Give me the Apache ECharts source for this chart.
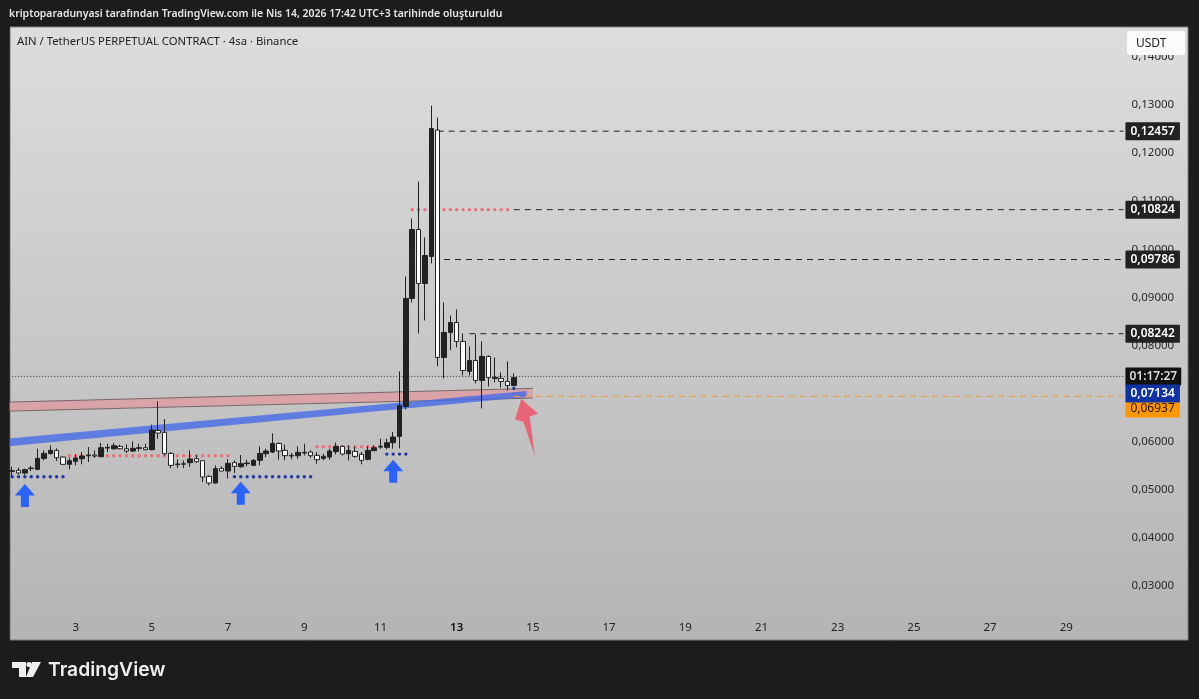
<!DOCTYPE html>
<html><head><meta charset="utf-8">
<style>html,body{margin:0;padding:0;background:#1c1c1c}#c{width:1199px;height:699px}</style>
<script src="https://cdn.jsdelivr.net/npm/echarts@6/dist/echarts.min.js"></script>
</head><body><div id="c"></div>
<script>
const opens=[0.05378,0.05399,0.05343,0.05434,0.0542,0.05648,0.05745,0.05815,0.05676,0.05524,0.05586,0.05641,0.05704,0.05718,0.05683,0.05863,0.05849,0.05898,0.05849,0.05801,0.05856,0.0587,0.05829,0.0623,0.06189,0.05752,0.05517,0.05538,0.05558,0.05641,0.056,0.05274,0.05136,0.0544,0.05385,0.05558,0.05475,0.05538,0.05503,0.05607,0.05745,0.0578,0.0596,0.05815,0.05697,0.05704,0.05759,0.0578,0.05711,0.05648,0.05676,0.05787,0.05898,0.05745,0.05794,0.05732,0.05628,0.05808,0.05884,0.05877,0.05974,0.06106,0.0673,0.08976,0.10411,0.09288,0.0985,0.1248,0.07749,0.08269,0.08477,0.08082,0.07458,0.07686,0.0727,0.0777,0.07312,0.07312,0.0725,0.07166];
const closes=[0.05392,0.05343,0.05413,0.05447,0.05648,0.05752,0.05815,0.05662,0.05524,0.056,0.05655,0.05697,0.05718,0.05697,0.0587,0.05877,0.05912,0.05849,0.05801,0.05856,0.0587,0.05829,0.06237,0.06175,0.05745,0.05503,0.05531,0.05524,0.05635,0.05579,0.0526,0.05136,0.05434,0.05385,0.05544,0.05482,0.05538,0.05551,0.05607,0.05752,0.05801,0.0596,0.05801,0.05704,0.05711,0.05773,0.05773,0.05704,0.05621,0.0569,0.05801,0.05898,0.05738,0.05815,0.0569,0.05607,0.05815,0.0587,0.05898,0.05974,0.06092,0.0675,0.08976,0.10411,0.09288,0.0987,0.12512,0.07749,0.08269,0.08477,0.08082,0.07478,0.07686,0.0727,0.0777,0.07333,0.07333,0.0725,0.07166,0.07333];
const lows=[0.05295,0.05316,0.05309,0.05385,0.05399,0.05607,0.05732,0.05593,0.0551,0.0542,0.05503,0.05524,0.05572,0.05662,0.05676,0.0578,0.05829,0.05835,0.05759,0.0578,0.05794,0.05815,0.05815,0.06057,0.05711,0.05447,0.05447,0.05447,0.05468,0.05558,0.05156,0.05087,0.05122,0.05385,0.05226,0.05343,0.05454,0.05482,0.05489,0.05503,0.05676,0.05759,0.05621,0.05607,0.05628,0.05641,0.05711,0.05662,0.05538,0.05607,0.05621,0.05732,0.05711,0.05607,0.05662,0.05524,0.05607,0.05801,0.05849,0.05835,0.05849,0.05856,0.06667,0.08893,0.08248,0.08518,0.09704,0.07562,0.07312,0.07894,0.07957,0.07374,0.07374,0.07208,0.06688,0.07146,0.07229,0.07125,0.07062,0.07146];
const highs=[0.05475,0.05454,0.05434,0.05489,0.05849,0.05815,0.05919,0.05856,0.0569,0.05662,0.05732,0.0578,0.05884,0.05815,0.05967,0.05953,0.05967,0.05932,0.05939,0.06002,0.05953,0.05953,0.06348,0.06833,0.06466,0.0578,0.05628,0.05607,0.05815,0.05718,0.05607,0.05295,0.05503,0.05482,0.05635,0.05607,0.05718,0.05621,0.05635,0.05898,0.05849,0.06168,0.05981,0.05932,0.05759,0.05898,0.05953,0.05815,0.0578,0.05745,0.05849,0.05974,0.05919,0.05919,0.05898,0.0578,0.05898,0.05919,0.06057,0.06057,0.06196,0.07458,0.09434,0.1064,0.1141,0.10245,0.1299,0.12741,0.08893,0.08622,0.08747,0.08248,0.07978,0.08227,0.08082,0.0779,0.07749,0.07437,0.07666,0.07416];
const yTicks=[0.03,0.04,0.05,0.06,0.07,0.08,0.09,0.10,0.11,0.12,0.13,0.14];
const dayLabels=[3,5,7,9,11,13,15,17,19,21,23,25,27,29];
const blueDots=[[0,8,0.05267],[35,47,0.05267],[59,62,0.05737],[79,79,0.07104]];
const pinkDots=[[9,34,0.05704],[48,58,0.05891],[63,78,0.10824]];
const pinkBand=[-1,0.06817,0.0663,82,0.07104,0.06902];
const blueBand=[-1,0.06055,0.05895,81,0.07048,0.06923];
const blueArrows=[[2,0.04878],[36,0.0492],[60,0.05378]];
const redArrow=[[81,0.06293]];
const levels=[[67,0.12457],[79,0.10824],[68,0.09786],[72,0.08242]];
const lastPrice=0.07134, orangeLevel=0.06937, orangeFrom=79, dottedLevel=0.07354, timer='01:17:27';
const count=176;

const comma=v=>v.toFixed(5).replace('.',',');
const categories=Array.from({length:count},()=> '');
dayLabels.forEach((d,i)=>{categories[10+12*i]=String(d)});
const candles=opens.map((o,i)=>[o,closes[i],lows[i],highs[i]]);
const expand=r=>r.flatMap(([a,b,v])=>Array.from({length:b-a+1},(_,i)=>[a+i,v]));
const FONT='"Noto Sans",sans-serif';
function band(fill,edge){return (p,api)=>{
  const a=api.coord([api.value(0),api.value(1)]),b=api.coord([api.value(0),api.value(2)]),
        c=api.coord([api.value(3),api.value(5)]),d=api.coord([api.value(3),api.value(4)]);
  const kids=[{type:'polygon',shape:{points:[a,d,c,b]},style:{fill}}];
  if(edge){kids.push({type:'line',shape:{x1:a[0],y1:a[1],x2:d[0],y2:d[1]},style:{stroke:edge,lineWidth:1}},
                     {type:'line',shape:{x1:b[0],y1:b[1],x2:c[0],y2:c[1]},style:{stroke:edge,lineWidth:1}});}
  return {type:'group',children:kids};
}}
function lvl(from,v,lineStyle,label,z){return {type:'line',data:[[from,v],[count-1,v]],symbol:'none',silent:true,z:z||1,lineStyle,
  endLabel:Object.assign({show:true,distance:2,fontFamily:FONT,fontSize:12,fontWeight:600,color:'#fff',backgroundColor:'#222',padding:[3,5,3,5],borderRadius:1},label)};}
const option={
  animation:false,backgroundColor:'#1c1c1c',
  grid:{left:9,top:27.6,width:1117.6,height:588},
  xAxis:{type:'category',data:categories,boundaryGap:true,axisLine:{show:false},axisTick:{show:false},splitLine:{show:false},
    axisLabel:{interval:0,margin:6,color:'#222',fontFamily:FONT,fontSize:11.5,
      formatter:v=>v==='13'?'{b|13}':v,rich:{b:{fontWeight:600,fontSize:11.5,fontFamily:FONT,color:'#111'}}}},
  yAxis:{type:'value',position:'right',min:0.02376,max:0.14613,axisLine:{show:false},axisTick:{show:false},splitLine:{show:false},
    axisLabel:{customValues:yTicks,margin:5,color:'#2a2a2a',fontFamily:FONT,fontSize:11.5,formatter:comma}},
  series:[
    {type:'custom',data:[pinkBand],renderItem:band('rgba(226,150,156,0.72)','#75686a'),clip:true,z:1,silent:true,encode:{x:[0,3],y:[1,2,4,5]}},
    {type:'custom',data:[blueBand],renderItem:band('rgba(66,104,232,0.78)',null),clip:true,z:1,silent:true,encode:{x:[0,3],y:[1,2,4,5]}},
    lvl(levels[0][0],levels[0][1],{color:'#222',type:[6,5],width:1},{formatter:comma(levels[0][1])}),
    lvl(levels[1][0],levels[1][1],{color:'#222',type:[6,5],width:1},{formatter:comma(levels[1][1])}),
    lvl(levels[2][0],levels[2][1],{color:'#222',type:[6,5],width:1},{formatter:comma(levels[2][1])}),
    lvl(levels[3][0],levels[3][1],{color:'#222',type:[6,5],width:1},{formatter:comma(levels[3][1])}),
    lvl(0,dottedLevel,{color:'#333',type:[1,2],width:1},{formatter:timer,backgroundColor:'#111',color:'#ddd',padding:[3,4,3,4]}),
    lvl(orangeFrom,orangeLevel,{color:'#f0a030',type:[6,5],width:1},{formatter:comma(orangeLevel),backgroundColor:'#ff9800',color:'#2a1800',fontWeight:400,offset:[0,12]}),
    lvl(count-2,lastPrice,{opacity:0,width:0},{formatter:comma(lastPrice),backgroundColor:'#0f33a3',offset:[0,6.5]},3),
    {type:'scatter',data:expand(pinkDots),symbolSize:3.4,itemStyle:{color:'#ee6f7a',opacity:1},silent:true,z:2},
    {type:'scatter',data:expand(blueDots),symbolSize:3.4,itemStyle:{color:'#1f35a0',opacity:1},silent:true,z:2},
    {type:'candlestick',data:candles,barWidth:5,silent:true,z:3,
      itemStyle:{color:'#222',color0:'#fff',borderColor:'#222',borderColor0:'#222',borderWidth:1}},
    {type:'scatter',data:blueArrows,symbol:'path://M10 0 L20 11 L14 11 L14 22 L6 22 L6 11 L0 11 Z',symbolSize:[20,23],
      itemStyle:{color:'#2a62fa',opacity:1},silent:true,z:4},
    {type:'scatter',data:redArrow,symbol:'path://M6 0 L22 14 L14 17 L19 55 L8 22 L0 20 Z',symbolSize:[23,57],
      itemStyle:{color:'rgba(240,84,104,0.85)',opacity:1},silent:true,z:4}
  ],
  graphic:{elements:[
    {type:'rect',z:-1,shape:{x:10,y:27,width:1178,height:613},
      style:{fill:new echarts.graphic.LinearGradient(0,0,0,1,[{offset:0,color:'#dddddd'},{offset:1,color:'#b4b4b4'}]),stroke:'#7e7e7e',lineWidth:1}},
    {type:'rect',z:100,shape:{x:0,y:27,width:9.5,height:613},style:{fill:'#1c1c1c'}},
    {type:'text',z:100,left:9,top:9,style:{text:'kriptoparadunyasi tarafından TradingView.com ile Nis 14, 2026 17:42 UTC+3 tarihinde oluşturuldu',fill:'#e6e6e6',font:'600 10.45px '+FONT}},
    {type:'text',z:100,left:17,top:36,style:{text:'AIN / TetherUS PERPETUAL CONTRACT · 4sa · Binance',fill:'#222',font:'11.3px '+FONT}},
    {type:'rect',z:100,shape:{x:1127,y:31,width:58,height:24,r:3},style:{fill:'#fbfbfb'}},
    {type:'text',z:101,left:1136,top:38,style:{text:'USDT',fill:'#222',font:'12px '+FONT}},
    {type:'polygon',z:100,shape:{points:[[12,662],[26,662],[26,677],[19,677],[19,668],[12,668]]},style:{fill:'#eeeeee'}},
    {type:'polygon',z:100,shape:{points:[[32,662],[41,662],[33,677],[26,677]]},style:{fill:'#eeeeee'}},
    {type:'circle',z:100,shape:{cx:29,cy:664.5,r:2.6},style:{fill:'#eeeeee'}},
    {type:'text',z:100,left:48,top:661,style:{text:'TradingView',fill:'#eeeeee',font:'600 19.3px Inter,'+FONT}}
  ]}
};
echarts.init(document.getElementById('c'),null,{renderer:'canvas'}).setOption(option);
</script></body></html>
